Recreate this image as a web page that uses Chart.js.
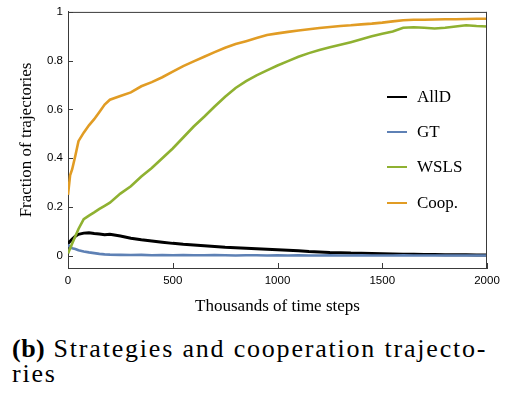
<!DOCTYPE html>
<html>
<head>
<meta charset="utf-8">
<script src="https://cdn.jsdelivr.net/npm/chart.js@4.4.1/dist/chart.umd.min.js"></script>
<style>
  html, body { margin: 0; padding: 0; background: #fff; }
  #wrap { position: relative; width: 517px; height: 403px; overflow: hidden; }
  #plot { position: absolute; left: 0; top: 0; }
  #legend { position: absolute; left: 387px; top: 0; font-family: "Liberation Serif", "Times New Roman", serif; font-size: 17px; color: #000; }
  .item { position: absolute; left: 0; white-space: nowrap; height: 20px; }
  .item .swatch { position: absolute; left: 0; top: 9px; width: 20px; height: 2px; }
  .item .label { position: absolute; left: 30px; top: 0; line-height: 20px; }
  #caption { position: absolute; left: 12px; top: 336px; font-family: "Liberation Serif", "Times New Roman", serif; font-size: 26px; line-height: 25px; letter-spacing: 1.8px; color: #000; white-space: pre; }
  #caption b { font-weight: bold; letter-spacing: 0.5px; }
</style>
</head>
<body>
<div id="wrap">
  <canvas id="plot" width="517" height="320"></canvas>
  <div id="legend"></div>
  <div id="caption"><b>(b)</b> Strategies and cooperation trajecto-
ries</div>
</div>
<script>
// time in thousands of steps
const steps = [0, 10, 20, 35, 50, 75, 100, 125, 150, 175, 200,
  250, 300, 350, 400, 450, 500, 550, 600, 650, 700,
  750, 800, 850, 900, 950, 1000, 1050, 1100, 1150, 1200,
  1250, 1300, 1350, 1400, 1450, 1500, 1550, 1600, 1650, 1700,
  1750, 1800, 1850, 1900, 1950, 2000];

const allD = [0.050, 0.060, 0.068, 0.080, 0.088, 0.093, 0.094, 0.091, 0.089, 0.086, 0.088,
  0.081, 0.072, 0.066, 0.061, 0.056, 0.051, 0.047, 0.044, 0.041, 0.038,
  0.035, 0.033, 0.031, 0.029, 0.027, 0.025, 0.023, 0.021, 0.018, 0.016,
  0.014, 0.013, 0.011, 0.010, 0.009, 0.008, 0.007, 0.006, 0.006, 0.005,
  0.005, 0.004, 0.004, 0.004, 0.003, 0.003];

const gt = [0.045, 0.036, 0.031, 0.028, 0.023, 0.018, 0.014, 0.011, 0.008, 0.006, 0.005,
  0.004, 0.003, 0.004, 0.002, 0.003, 0.002, 0.003, 0.002, 0.002, 0.003,
  0.002, 0.001, 0.002, 0.002, 0.001, 0.002, 0.001, 0.002, 0.001, 0.001,
  0.002, 0.001, 0.001, 0.002, 0.001, 0.001, 0.001, 0.002, 0.001, 0.001,
  0.001, 0.001, 0.001, 0.001, 0.001, 0.001];

const wsls = [0.010, 0.030, 0.050, 0.080, 0.110, 0.150, 0.165, 0.178, 0.192, 0.205, 0.218,
  0.255, 0.285, 0.325, 0.360, 0.400, 0.440, 0.485, 0.530, 0.570, 0.612,
  0.652, 0.688, 0.716, 0.740, 0.760, 0.780, 0.798, 0.816, 0.831, 0.844,
  0.855, 0.865, 0.876, 0.888, 0.900, 0.910, 0.920, 0.935, 0.937, 0.935,
  0.932, 0.935, 0.940, 0.945, 0.942, 0.940];

const coop = [0.250, 0.330, 0.355, 0.410, 0.470, 0.505, 0.535, 0.560, 0.590, 0.620, 0.640,
  0.655, 0.670, 0.695, 0.712, 0.732, 0.755, 0.778, 0.797, 0.816, 0.835,
  0.853, 0.868, 0.880, 0.893, 0.905, 0.912, 0.918, 0.924, 0.929, 0.934,
  0.938, 0.942, 0.945, 0.949, 0.952, 0.956, 0.961, 0.966, 0.968, 0.968,
  0.969, 0.970, 0.970, 0.971, 0.972, 0.972];

const seriesNames = ['AllD', 'GT', 'WSLS', 'Coop.'];
const seriesColors = ['#000000', '#5E81B5', '#8FB131', '#E19C24'];
const xTicks = [0, 500, 1000, 1500, 2000];
const yTicks = [0, 0.2, 0.4, 0.6, 0.8, 1];

const frameColor = '#3a3a3a';

function toPoints(values) {
    return steps.map((t, i) => ({ x: t, y: values[i] }));
}

// frame on top/right plus inward ticks on the left/bottom
const framePlugin = {
    id: 'frame',
    afterDraw(chart) {
        const { ctx, chartArea: a, scales } = chart;
        ctx.save();
        ctx.strokeStyle = frameColor;
        ctx.lineWidth = 1;
        ctx.beginPath();
        ctx.moveTo(a.left, a.top + 0.5);
        ctx.lineTo(a.right, a.top + 0.5);
        ctx.moveTo(a.right - 0.5, a.top);
        ctx.lineTo(a.right - 0.5, a.bottom);
        xTicks.forEach(v => {
            const px = Math.round(scales.x.getPixelForValue(v)) + 0.5;
            ctx.moveTo(px, a.bottom);
            ctx.lineTo(px, a.bottom - 5);
        });
        yTicks.forEach(v => {
            const py = Math.round(scales.y.getPixelForValue(v)) + 0.5;
            ctx.moveTo(a.left, py);
            ctx.lineTo(a.left + 5, py);
        });
        ctx.stroke();
        ctx.restore();
    }
};

const tickFont = { family: '"Liberation Sans", Arial, sans-serif', size: 11.5 };
const titleFont = { family: '"Liberation Serif", "Times New Roman", serif', size: 17 };

new Chart(document.getElementById('plot'), {
    type: 'line',
    data: {
        datasets: [allD, gt, wsls, coop].map((vals, i) => ({
            label: seriesNames[i],
            data: toPoints(vals),
            borderColor: seriesColors[i],
            backgroundColor: seriesColors[i],
            borderWidth: i === 0 ? 3 : 2.6,
            pointRadius: 0,
            tension: 0,
            order: 4 - i
        }))
    },
    options: {
        responsive: false,
        animation: false,
        layout: { padding: { left: 0, right: 30, top: 10, bottom: 0 } },
        plugins: { legend: { display: false }, tooltip: { enabled: false } },
        scales: {
            x: {
                type: 'linear', min: 0, max: 2000,
                afterBuildTicks: s => { s.ticks = xTicks.map(v => ({ value: v })); },
                afterFit: s => { s.height = 52; },
                grid: { display: true, drawOnChartArea: false, drawTicks: false },
                border: { display: true, color: frameColor, width: 1 },
                ticks: { color: '#000', font: tickFont, padding: 6, maxRotation: 0,
                         callback: v => String(v) },
                title: { display: true, text: 'Thousands of time steps', color: '#000',
                         font: titleFont, padding: { top: 0, bottom: 3 } }
            },
            y: {
                type: 'linear', min: -0.05, max: 1,
                afterBuildTicks: s => { s.ticks = yTicks.map(v => ({ value: v })); },
                afterFit: s => { s.width = 68; },
                grid: { display: true, drawOnChartArea: false, drawTicks: false },
                border: { display: true, color: frameColor, width: 1 },
                ticks: { color: '#000', font: tickFont, padding: 5,
                         callback: v => (v === 0 || v === 1) ? String(v) : v.toFixed(1) },
                title: { display: true, text: 'Fraction of trajectories', color: '#000',
                         font: titleFont, padding: { top: 16, bottom: 0 } }
            }
        }
    },
    plugins: [framePlugin]
});

// legend drawn as html over the plot area
const legendBox = document.getElementById('legend');
const legendY = [87, 122, 157, 193];
seriesNames.forEach((name, i) => {
    const item = document.createElement('div');
    item.className = 'item';
    item.style.top = legendY[i] + 'px';
    item.innerHTML = `<span class="swatch" style="background:${seriesColors[i]}"></span><span class="label">${name}</span>`;
    legendBox.appendChild(item);
});
</script>
</body>
</html>
